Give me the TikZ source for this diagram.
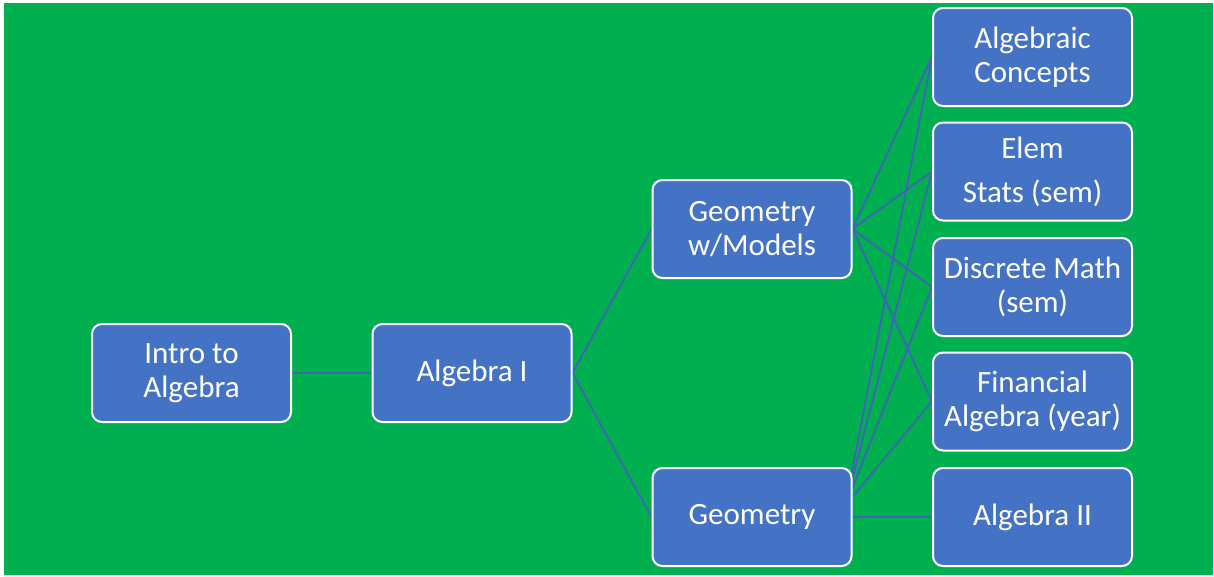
\documentclass[tikz,border=0pt]{standalone}
\usepackage{fontspec}
\setmainfont{Carlito}
\usetikzlibrary{backgrounds}
\definecolor{bggreen}{RGB}{0,175,80}
\definecolor{boxblue}{RGB}{68,114,196}
\definecolor{linkblue}{RGB}{62,102,178}
\begin{document}
\begin{tikzpicture}[x=1pt, y=-1pt,
    course/.style={draw=white, line width=2pt, fill=boxblue, rounded corners=10pt,
        minimum width=199pt, minimum height=98pt, align=center, text=white,
        font=\fontsize{31}{34}\selectfont},
    link/.style={draw=linkblue, line width=1.9pt}]
    \useasboundingbox (0,0) rectangle (1214,576);

    % 课程方框
    \node[course] (intro) at (191.5, 373) {Intro to\\Algebra};
    \node[course] (alg1) at (472, 373) {Algebra I};
    \node[course] (geomod) at (752, 229) {Geometry\\w/Models};
    \node[course] (geo) at (752, 517) {Geometry};
    \node[course] (algcon) at (1032.5, 57) {Algebraic\\Concepts};
    \node[course] (elem) at (1032.5, 171.5) {Elem\\[10pt]Stats (sem)};
    \node[course] (disc) at (1032.5, 287) {Discrete Math\\(sem)};
    \node[course] (fin) at (1032.5, 401.5) {Financial\\Algebra (year)};
    \node[course] (alg2) at (1032.5, 517) {Algebra II};

    \begin{pgfonlayer}{background}
        % 背景
        \fill[bggreen] (4,3) rectangle (1213,575);

        % 连线
        \draw[link] (intro.east) -- (alg1.west);
        \draw[link] (alg1.east) -- (geomod.west);
        \draw[link] (alg1.east) -- (geo.west);
        \foreach \target in {algcon, elem, disc, fin}
            \draw[link] (geomod.east) -- (\target.west);
        \foreach \target in {algcon, elem, disc, fin}
            \draw[link] ([shift={(-7,-12)}]geo.east) -- (\target.west);
        \draw[link] (geo.east) -- (alg2.west);
    \end{pgfonlayer}
\end{tikzpicture}
\end{document}
